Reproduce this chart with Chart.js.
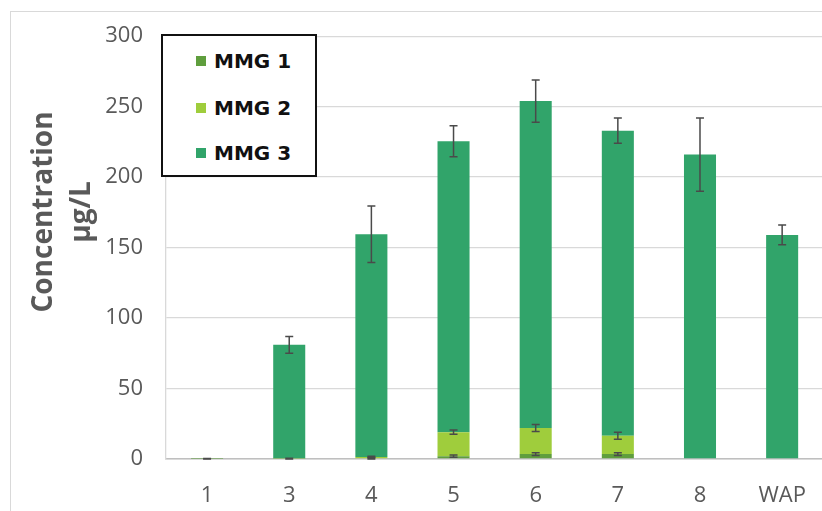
<!DOCTYPE html>
<html>
<head>
<meta charset="utf-8">
<script src="https://cdn.jsdelivr.net/npm/chart.js@4/dist/chart.umd.min.js"></script>
<style>
  html, body { margin: 0; padding: 0; background: #fff; overflow: hidden; }
  #wrap { position: relative; width: 830px; height: 511px; }
  #frame { position: absolute; left: 10px; top: 11px; width: 900px; height: 600px; border: 1.5px solid #d9d9d9; box-sizing: border-box; }
  canvas { position: absolute; left: 0; top: 0; }
  #legend { position: absolute; left: 161px; top: 34px; width: 156px; height: 143px; border: 2.5px solid #111; box-sizing: border-box; background: #fff; }
  .item { position: absolute; left: 33px; height: 24px; display: flex; align-items: center; font-family: "DejaVu Sans", sans-serif; font-weight: bold; font-size: 20px; color: #111; white-space: nowrap; }
  .swatch { width: 10px; height: 10px; margin-right: 8px; }
  #ytitle { position: absolute; left: -90px; top: 174px; width: 300px; height: 76px; transform: rotate(-90deg); text-align: center; font-family: "Open Sans", sans-serif; font-weight: bold; font-size: 28px; line-height: 38px; color: #595959; }
</style>
</head>
<body>
<div id="wrap">
  <div id="frame"></div>
  <canvas id="c" width="830" height="511"></canvas>
  <div id="legend"></div>
  <div id="ytitle"></div>
</div>
<script>
const categories = ['1', '3', '4', '5', '6', '7', '8', 'WAP'];
const seriesNames = ['MMG 1', 'MMG 2', 'MMG 3'];
const mmg1 = [0.1, 0.3, 0.5, 2, 3.5, 3.5, 0, 0];
const mmg2 = [0, 0.2, 1, 17, 18.5, 13, 0, 0];
const mmg3 = [0, 80.5, 158, 206.5, 232, 216.5, 216, 159];
const err1 = [0.2, 0.3, 0.6, 0.8, 1, 1, 0, 0];
const err2 = [0, 0, 0.5, 1.5, 2.5, 2.5, 0, 0];
const err3 = [0, 6, 20, 11, 15, 9, 26, 7];
const yTicks = [0, 50, 100, 150, 200, 250, 300];
const axisTitle = ['Concentration', 'µg/L'];
const colors = ['#5f9e3d', '#9fcd3c', '#31a46a'];

const seriesValues = [mmg1, mmg2, mmg3];
const seriesErrors = [err1, err2, err3];

const errorBars = {
  id: 'errorBars',
  afterDatasetsDraw(chart) {
    const ctx = chart.ctx;
    const y = chart.scales.y;
    ctx.save();
    ctx.strokeStyle = '#4a4a4a';
    ctx.lineWidth = 1.5;
    chart.data.datasets.forEach((ds, i) => {
      const meta = chart.getDatasetMeta(i);
      const errs = seriesErrors[i];
      meta.data.forEach((el, j) => {
        const e = errs[j];
        if (!e) return;
        let cum = 0;
        for (let k = 0; k <= i; k++) cum += seriesValues[k][j];
        const yt = y.getPixelForValue(cum + e);
        const yb = y.getPixelForValue(Math.max(cum - e, 0));
        const x = el.x;
        ctx.beginPath();
        ctx.moveTo(x, yt); ctx.lineTo(x, yb);
        ctx.moveTo(x - 4, yt); ctx.lineTo(x + 4, yt);
        ctx.moveTo(x - 4, yb); ctx.lineTo(x + 4, yb);
        ctx.stroke();
      });
    });
    ctx.restore();
  }
};

const tickFont = { family: '"Open Sans", sans-serif', size: 22 };

const chart = new Chart(document.getElementById('c'), {
  type: 'bar',
  data: {
    labels: categories,
    datasets: seriesValues.map((v, i) => ({
      label: seriesNames[i],
      data: v,
      backgroundColor: colors[i],
      borderWidth: 0,
      barPercentage: 0.39,
      categoryPercentage: 1
    }))
  },
  options: {
    responsive: false,
    animation: false,
    layout: { padding: { top: 28, right: 2, bottom: 0, left: 0 } },
    plugins: { legend: { display: false }, tooltip: { enabled: false } },
    scales: {
      x: {
        stacked: true,
        grid: { display: false, drawTicks: false },
        border: { display: true, color: '#bfbfbf', width: 1.5 },
        ticks: { color: '#595959', font: tickFont, padding: 24, maxRotation: 0 },
        afterFit(s) { s.height = 52; }
      },
      y: {
        stacked: true,
        min: 0,
        max: 300,
        grid: { color: '#d9d9d9', lineWidth: 1.3, drawTicks: false },
        border: { display: true, color: '#d9d9d9', width: 1.3 },
        afterBuildTicks(s) { s.ticks = yTicks.map(v => ({ value: v })); },
        ticks: { color: '#595959', font: tickFont, padding: 23 },
        afterFit(s) { s.width = 166; }
      }
    }
  },
  plugins: [errorBars]
});

const legend = document.getElementById('legend');
const rowTops = [13, 59.5, 105];
seriesNames.forEach((n, i) => {
  const it = document.createElement('div');
  it.className = 'item';
  it.style.top = rowTops[i] + 'px';
  const sw = document.createElement('span');
  sw.className = 'swatch';
  sw.style.background = colors[i];
  it.appendChild(sw);
  it.appendChild(document.createTextNode(n));
  legend.appendChild(it);
});
document.getElementById('ytitle').innerHTML = axisTitle.map(t => '<div>' + t + '</div>').join('');
</script>
</body>
</html>
